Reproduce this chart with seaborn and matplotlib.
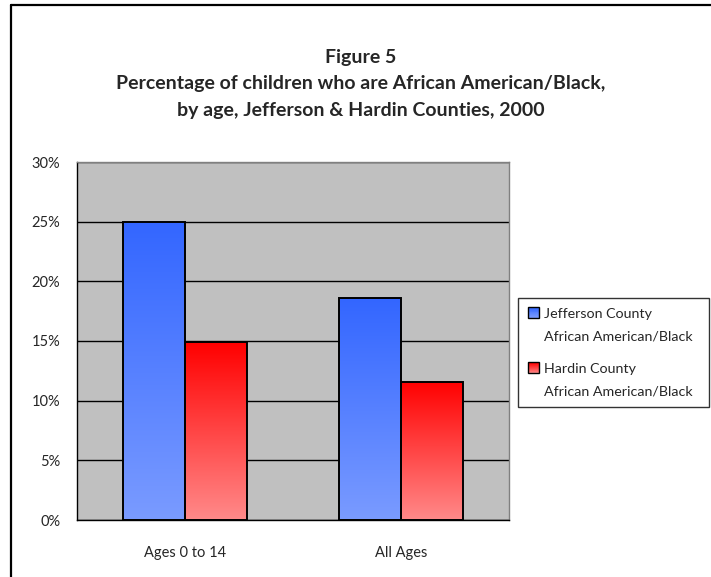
import numpy as np
import pandas as pd
import matplotlib
matplotlib.use("Agg")
import matplotlib.pyplot as plt
import seaborn as sns
from matplotlib.patches import Rectangle
from matplotlib.lines import Line2D
from matplotlib.colors import LinearSegmentedColormap
from matplotlib.legend_handler import HandlerPatch

# Data
categories = ["Ages 0 to 14", "All Ages"]
series = ["Jefferson County\nAfrican American/Black", "Hardin County\nAfrican American/Black"]
jefferson = [25.0, 18.6]
hardin = [14.9, 11.6]
yticks = [0, 5, 10, 15, 20, 25, 30]

df = pd.DataFrame({
    "category": categories * 2,
    "series": [series[0]] * 2 + [series[1]] * 2,
    "value": jefferson + hardin,
})

sns.set_theme(style="white")
plt.rcParams["font.family"] = ["Lato", "DejaVu Sans"]

fig = plt.figure(figsize=(7.11, 5.77), dpi=100)
W, H = 711, 577
ax = fig.add_axes([77 / W, 57 / H, 432 / W, 358 / H])
ax.set_facecolor("#C0C0C0")

top_colors = ["#3366FF", "#FF0000"]
bot_colors = ["#7A9BFF", "#FF8A8A"]

sns.barplot(data=df, x="category", y="value", hue="series", order=categories,
            hue_order=series, palette=top_colors, width=0.574, gap=0,
            edgecolor="black", linewidth=1.4, saturation=1, ax=ax, legend=False,
            zorder=3)

# Vertical gradient fill for each bar, clipped to the bar outline
grad = np.linspace(0, 1, 256).reshape(-1, 1)
bars = [p for p in ax.patches if isinstance(p, Rectangle)]
for i, bar in enumerate(bars):
    s = 0 if i < len(categories) else 1
    cmap = LinearSegmentedColormap.from_list("g", [bot_colors[s], top_colors[s]])
    x0, y0 = bar.get_x(), bar.get_y()
    w, h = bar.get_width(), bar.get_height()
    im = ax.imshow(grad, cmap=cmap, origin="lower", aspect="auto",
                   extent=[x0, x0 + w, y0, y0 + h], zorder=3.5)
    im.set_clip_path(bar)
    bar.set_facecolor("none")
    bar.set_zorder(4)
ax.set_xlim(-0.5, 1.5)
ax.set_ylim(0, 30)

# Axes styling
ax.set_yticks(yticks)
ax.set_yticklabels([f"{v}%" for v in yticks], fontsize=10.5)
ax.yaxis.grid(True, color="black", linewidth=1.0, zorder=1)
ax.set_axisbelow(True)
ax.set_xticks(range(len(categories)))
ax.set_xticklabels(categories, fontsize=10.5)
ax.tick_params(axis="x", which="major", length=0, pad=19)
ax.set_xticks([-0.5, 0.5, 1.5], minor=True)
ax.tick_params(axis="x", which="minor", length=6, width=1, color="black", direction="out")
ax.tick_params(axis="y", length=6, width=1, color="black", direction="out", pad=6)
ax.set_xlabel("")
ax.set_ylabel("")
for side in ["left", "bottom"]:
    ax.spines[side].set_color("black")
    ax.spines[side].set_linewidth(1.0)
for side in ["top", "right"]:
    ax.spines[side].set_color("#808080")
    ax.spines[side].set_linewidth(1.0)
for side in ax.spines:
    ax.spines[side].set_visible(True)

LEG_FS = 10.3
LINESPACING = 2.0
SHIFT = 0.88 * LINESPACING * LEG_FS / 2.0


class GradientSquare(HandlerPatch):
    """Gradient-filled square aligned with the first line of a two-line label."""

    def create_artists(self, legend, orig_handle, xdescent, ydescent,
                       width, height, fontsize, trans):
        s = int(orig_handle.get_gid())
        cmap = LinearSegmentedColormap.from_list("g", [bot_colors[s], top_colors[s]])
        arts = []
        n = 12
        y_base = -ydescent + SHIFT
        for k in range(n):
            r = Rectangle((-xdescent, y_base + height * k / n), width, height / n,
                          facecolor=cmap(k / (n - 1)), edgecolor="none", transform=trans)
            arts.append(r)
        border = Rectangle((-xdescent, y_base), width, height, facecolor="none",
                           edgecolor="black", linewidth=1.0, transform=trans)
        arts.append(border)
        return arts


handles = []
for s in range(2):
    h = Rectangle((0, 0), 1, 1)
    h.set_gid(str(s))
    handles.append(h)

leg = fig.legend(handles, series, loc="upper left", mode="expand",
                 bbox_to_anchor=(518 / W, 1 - 414 / H, 191 / W, 116 / H),
                 handler_map={Rectangle: GradientSquare()},
                 fontsize=LEG_FS, frameon=True, fancybox=False, edgecolor="black",
                 handlelength=0.8, handleheight=0.8, handletextpad=0.3,
                 labelspacing=1.5, borderpad=0.7, borderaxespad=0)
leg.get_frame().set_linewidth(1.0)
for t in leg.get_texts():
    t.set_linespacing(LINESPACING)

# Titles
cx = 0.5 * (11 + 711) / W
fig.text(cx, 1 - 57 / H, "Figure 5", ha="center", va="center",
         fontsize=14, fontweight="bold")
fig.text(cx, 1 - 84 / H,
         "Percentage of children who are African American/Black,",
         ha="center", va="center", fontsize=14, fontweight="bold")
fig.text(cx, 1 - 111 / H,
         "by age, Jefferson & Hardin Counties, 2000",
         ha="center", va="center", fontsize=14, fontweight="bold")

# Outer frame (top and left edges)
fig.add_artist(Line2D([11 / W, 1.0], [1 - 5 / H, 1 - 5 / H], color="black", linewidth=1.6))
fig.add_artist(Line2D([11 / W, 11 / W], [0, 1 - 5 / H], color="black", linewidth=1.6))

fig.savefig("out.png", dpi=100)
